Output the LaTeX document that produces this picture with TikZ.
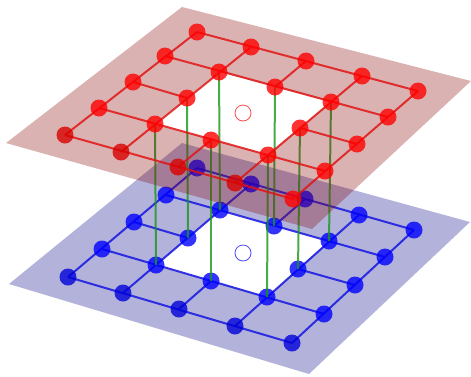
\documentclass[tikz,border=0pt]{standalone}
\usepackage{tikz}
\definecolor{planered}{RGB}{135,0,0}
\definecolor{planeblue}{RGB}{0,0,135}
\definecolor{dotred}{RGB}{255,0,0}
\definecolor{dotblue}{RGB}{0,0,255}
\definecolor{wirered}{RGB}{225,20,20}
\definecolor{wireblue}{RGB}{20,20,225}
\definecolor{linkgreen}{RGB}{25,150,25}
\tikzset{
  plane/.style={even odd rule,fill opacity=.3},
  wire/.style={line width=2pt,draw opacity=.85},
  dot/.style={circle,inner sep=0pt,minimum size=17pt,fill opacity=.8},
  hollow/.style={circle,inner sep=0pt,minimum size=16pt,draw,line width=.8pt,draw opacity=.7},
  link/.style={linkgreen,line width=2pt,draw opacity=.8}
}

\begin{document}
\begin{tikzpicture}[x=1pt,y=-1pt]
\useasboundingbox (0,0) rectangle (471,376);
% red grid points
\foreach \n/\x/\y in {r11/65/135,r12/99/108,r13/133/82,r14/165/56,r15/197/32,
  r21/121/152,r22/155/124,r23/187/98,r24/219/72,r25/251/47,
  r31/178/167,r32/211/140,r34/275/87,r35/306/61,
  r41/235/183,r42/268/155,r43/300/128,r44/331/102,r45/362/76,
  r51/293/199,r52/325/171,r53/357/144,r54/388/117,r55/418/91}
  \coordinate (\n) at (\x,\y);
% blue grid points
\foreach \n/\x/\y in {b11/68/277,b12/102/249,b13/134/222,b14/166/195,b15/197/168,
  b21/123/293,b22/156/265,b23/188/238,b24/220/210,b25/251/184,
  b31/179/309,b32/211/281,b34/274/226,b35/305/199,
  b41/235/326,b42/267/297,b43/298/269,b44/329/241,b45/359/215,
  b51/292/343,b52/324/314,b53/355/285,b54/385/257,b55/414/230}
  \coordinate (\n) at (\x,\y);
% blue layer
\fill[planeblue,plane] (182,143) -- (470,222) -- (309,374) -- (9,284) -- cycle
  (b22) -- (b24) -- (b44) -- (b42) -- cycle;
\draw[wireblue,wire] (b11) -- (b15) (b21) -- (b25) (b31) -- (b32) (b34) -- (b35)
  (b41) -- (b45) (b51) -- (b55);
\draw[wireblue,wire] (b11) -- (b51) (b12) -- (b52) (b13) -- (b23) (b43) -- (b53)
  (b14) -- (b54) (b15) -- (b55);
\foreach \n in {b12,b13,b14,b15,b22,b23,b24,b25,b32,b34,b35,b42,b43,b44,b45,b52,b53,b54,b55}
  \node[dot,fill=dotblue] (dot\n) at (\n) {};
\foreach \n in {b11,b21,b31,b41,b51}
  \node[dot,fill=dotblue!85!black] (dot\n) at (\n) {};
\node[hollow,dotblue] (holeb) at (243,253) {};
% links
\foreach \a/\b in {r22/b22,r23/b23,r24/b24,r34/b34,r44/b44,r43/b43,r42/b42,r32/b32}
  \draw[link] (\a) -- (\b);
% red layer
\fill[planered,plane] (182,7) -- (471,81) -- (312,229) -- (6,143) -- cycle
  (r22) -- (r24) -- (r44) -- (r42) -- cycle;
\draw[wirered,wire] (r11) -- (r15) (r21) -- (r25) (r31) -- (r32) (r34) -- (r35)
  (r41) -- (r45) (r51) -- (r55);
\draw[wirered,wire] (r11) -- (r51) (r12) -- (r52) (r13) -- (r23) (r43) -- (r53)
  (r14) -- (r54) (r15) -- (r55);
\foreach \n in {r12,r13,r14,r15,r22,r23,r24,r25,r32,r34,r35,r42,r43,r44,r45,r51,r52,r53,r54,r55}
  \node[dot,fill=dotred] (dot\n) at (\n) {};
\foreach \n in {r11,r21,r31,r41}
  \node[dot,fill=dotred!85!black] (dot\n) at (\n) {};
\node[hollow,dotred] (holer) at (243,113) {};
\end{tikzpicture}
\end{document}
